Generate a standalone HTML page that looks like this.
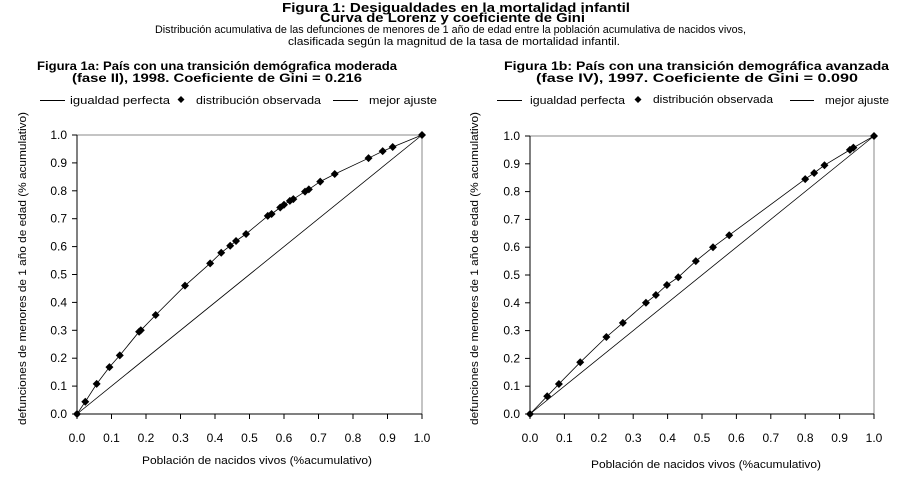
<!DOCTYPE html>
<html><head><meta charset="utf-8"><style>
html,body{margin:0;padding:0;background:#fff;}
svg{display:block;font-family:"Liberation Sans",Arial,sans-serif;}
</style></head><body>
<svg width="900" height="499" viewBox="0 0 900 499" xmlns="http://www.w3.org/2000/svg">
<g fill="#000">
<text x="282" y="12" font-size="13" font-weight="bold" textLength="348" lengthAdjust="spacingAndGlyphs">Figura 1: Desigualdades en la mortalidad infantil</text>
<text x="320" y="22" font-size="13" font-weight="bold" textLength="265" lengthAdjust="spacingAndGlyphs">Curva de Lorenz y coeficiente de Gini</text>
<text x="155" y="33" font-size="11" textLength="591" lengthAdjust="spacingAndGlyphs">Distribución acumulativa de las defunciones de menores de 1 año de edad entre la población acumulativa de nacidos vivos,</text>
<text x="288" y="45" font-size="11" textLength="332" lengthAdjust="spacingAndGlyphs">clasificada según la magnitud de la tasa de mortalidad infantil.</text>
<text x="37" y="70" font-size="12" font-weight="bold" textLength="360" lengthAdjust="spacingAndGlyphs">Figura 1a: País con una transición demógrafica moderada</text>
<text x="72" y="82" font-size="12" font-weight="bold" textLength="290" lengthAdjust="spacingAndGlyphs">(fase II), 1998.  Coeficiente de Gini = 0.216</text>
<text x="504" y="70" font-size="12" font-weight="bold" textLength="385" lengthAdjust="spacingAndGlyphs">Figura 1b: País con una transición demográfica avanzada</text>
<text x="536" y="82" font-size="12" font-weight="bold" textLength="322" lengthAdjust="spacingAndGlyphs">(fase IV), 1997.  Coeficiente de Gini = 0.090</text>
<g font-size="11">
<text x="70" y="104" textLength="100" lengthAdjust="spacingAndGlyphs">igualdad perfecta</text>
<text x="196" y="104" textLength="125" lengthAdjust="spacingAndGlyphs">distribución observada</text>
<text x="369" y="104" textLength="68" lengthAdjust="spacingAndGlyphs">mejor ajuste</text>
<text x="530" y="104" textLength="95" lengthAdjust="spacingAndGlyphs">igualdad perfecta</text>
<text x="653" y="103" textLength="120" lengthAdjust="spacingAndGlyphs">distribución observada</text>
<text x="825" y="104" textLength="64" lengthAdjust="spacingAndGlyphs">mejor ajuste</text>
</g>
<path d="M181 96l3.5 3.5l-3.5 3.5l-3.5-3.5z M638 96l3.5 3.5l-3.5 3.5l-3.5-3.5z"/>
</g>
<g stroke="#000" stroke-width="1">
<path d="M40 100.5H65M333 100.5H358M497 100.5H522M790 100.5H814"/>
</g>
<g id="L"></g>
<g id="R"></g>
<g font-size="11">
<text x="142" y="464" textLength="230" lengthAdjust="spacingAndGlyphs">Población de nacidos vivos (%acumulativo)</text>
<text x="591" y="468" textLength="230" lengthAdjust="spacingAndGlyphs">Población de nacidos vivos (%acumulativo)</text>
<text transform="translate(26,425) rotate(-90)" textLength="313" lengthAdjust="spacingAndGlyphs">defunciones de menores de 1 año de edad (% acumulativo)</text>
<text transform="translate(478,425) rotate(-90)" textLength="313" lengthAdjust="spacingAndGlyphs">defunciones de menores de 1 año de edad (% acumulativo)</text>
</g>
<script>
(function(){
var NS="http://www.w3.org/2000/svg";
function el(p,t,a,txt){var e=document.createElementNS(NS,t);for(var k in a)e.setAttribute(k,a[k]);if(txt!=null)e.textContent=txt;p.appendChild(e);return e;}
function chart(id,x0,x1,y0,y1,pts){
 var g=document.getElementById(id);
 function X(v){return x0+(x1-x0)*v;} function Y(v){return y0-(y0-y1)*v;}
 el(g,"path",{d:"M"+x0+" "+y1+"H"+x1+"V"+y0,stroke:"#888",fill:"none"});
 el(g,"path",{d:"M"+x0+" "+y1+"V"+y0+"H"+x1,stroke:"#000",fill:"none"});
 for(var i=0;i<=10;i++){
  var xv=X(i/10),yv=Y(i/10);
  el(g,"line",{x1:xv,x2:xv,y1:y0,y2:y0+5,stroke:"#000"});
  el(g,"line",{x1:x0-5,x2:x0,y1:yv,y2:yv,stroke:"#000"});
  el(g,"text",{x:xv,y:y0+28,"font-size":"12","text-anchor":"middle"},(i/10).toFixed(1));
  el(g,"text",{x:x0-10,y:yv+4,"font-size":"12","text-anchor":"end"},(i/10).toFixed(1));
 }
 el(g,"line",{x1:X(0),y1:Y(0),x2:X(1),y2:Y(1),stroke:"#000","stroke-width":"0.8"});
 var d="";pts.forEach(function(p,i){d+=(i?"L":"M")+X(p[0]).toFixed(1)+" "+Y(p[1]).toFixed(1);});
 el(g,"path",{d:d,stroke:"#000",fill:"none","stroke-width":"0.8"});
 pts.forEach(function(p){var cx=X(p[0]),cy=Y(p[1]);
  el(g,"path",{d:"M"+cx+" "+(cy-4)+"l4 4l-4 4l-4-4z",fill:"#000"});});
}
chart("L",77,422,414,135,[[0,0],[0.024,0.044],[0.057,0.108],[0.094,0.168],[0.124,0.21],[0.18,0.295],[0.185,0.3],[0.228,0.355],[0.313,0.46],[0.386,0.54],[0.418,0.578],[0.444,0.603],[0.461,0.62],[0.49,0.645],[0.553,0.71],[0.564,0.717],[0.589,0.74],[0.6,0.75],[0.617,0.764],[0.627,0.77],[0.661,0.797],[0.672,0.805],[0.705,0.833],[0.747,0.86],[0.845,0.917],[0.886,0.942],[0.915,0.957],[1,1]]);
chart("R",530,874,414,136,[[0,0],[0.05,0.064],[0.084,0.108],[0.146,0.186],[0.222,0.277],[0.27,0.328],[0.337,0.4],[0.366,0.428],[0.398,0.464],[0.431,0.492],[0.482,0.55],[0.532,0.6],[0.579,0.643],[0.8,0.845],[0.826,0.867],[0.856,0.895],[0.93,0.95],[0.94,0.958],[1,1]]);
})();
</script>
</svg>
</body></html>
